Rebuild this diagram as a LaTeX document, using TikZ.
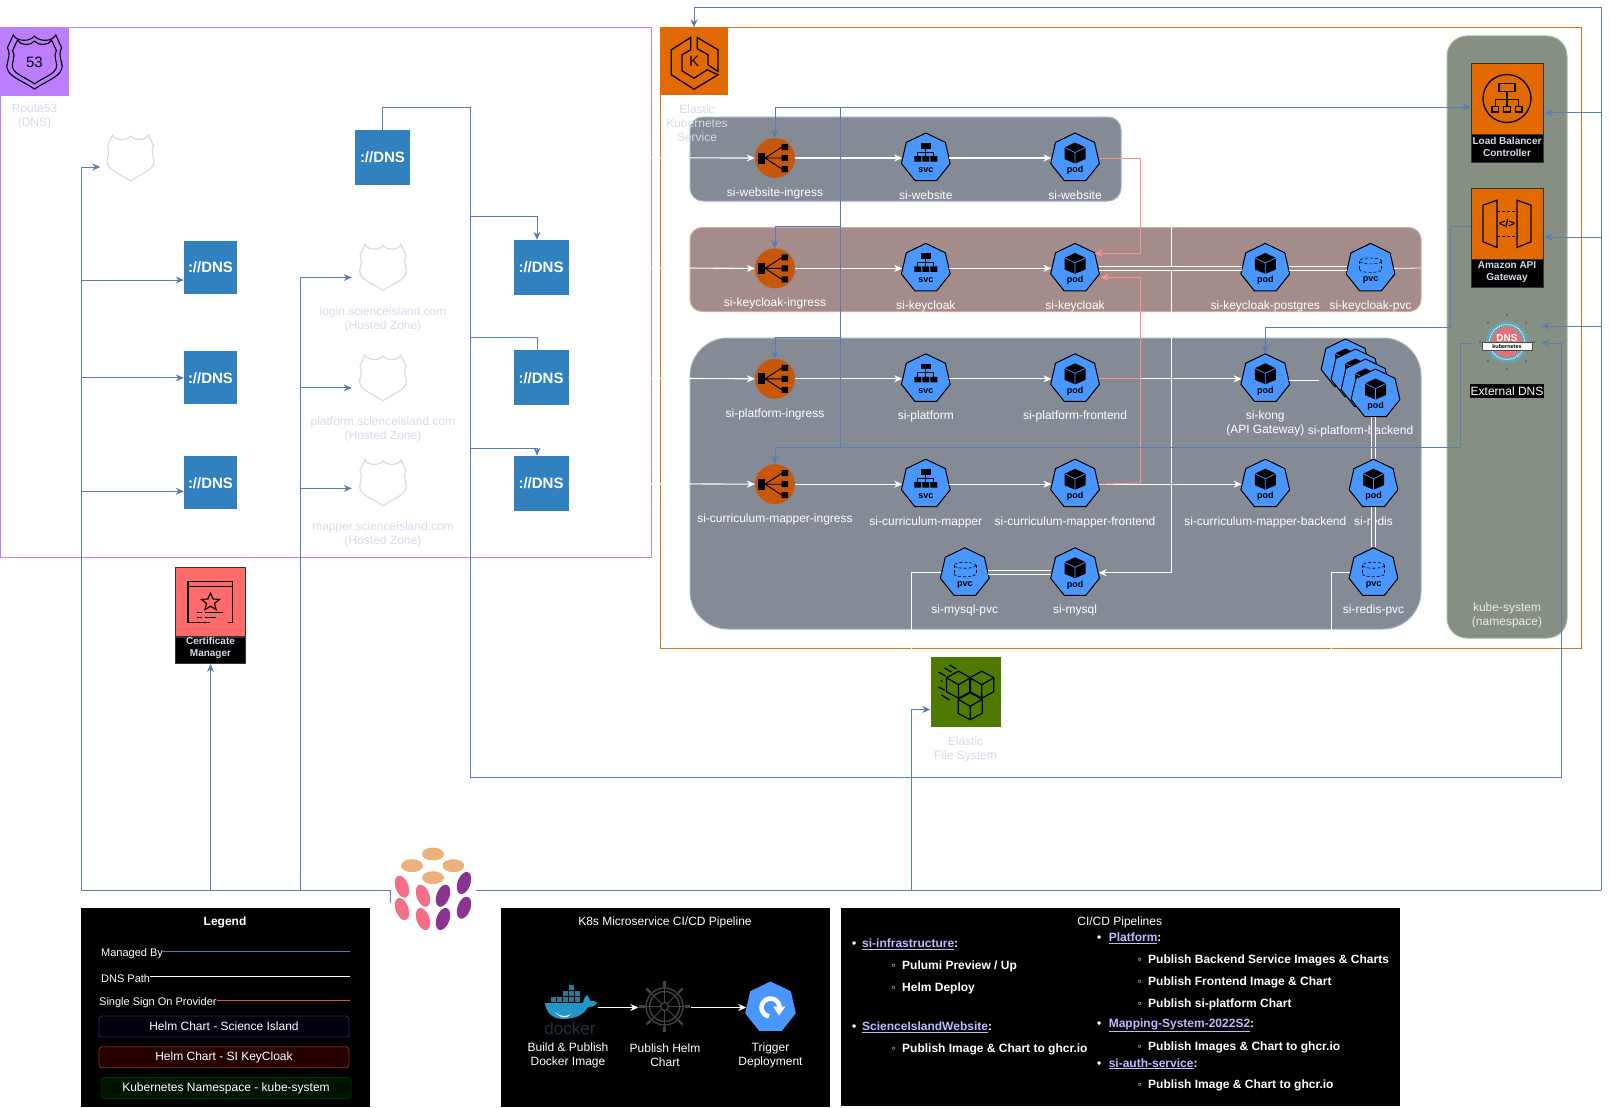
\documentclass[tikz,border=0pt]{standalone}
\usepackage{fontspec}
\setmainfont{Liberation Sans}
\usepackage{tikz}
\usetikzlibrary{shapes.geometric, arrows.meta, positioning, calc}

\definecolor{routepurple}{HTML}{BC7DFF}
\definecolor{eksorange}{HTML}{E36A00}
\definecolor{frameorange}{HTML}{D9731A}
\definecolor{efsgreen}{HTML}{4D7A00}
\definecolor{certred}{HTML}{FF6B6B}
\definecolor{kubeblue}{HTML}{4A96FF}
\definecolor{ingressorange}{HTML}{C7580B}
\definecolor{dnsblue}{HTML}{3181BE}
\definecolor{managedblue}{HTML}{5A7BB3}
\definecolor{ssopink}{HTML}{FF9090}
\definecolor{palelabel}{HTML}{D3DAE8}
\definecolor{chartgray}{HTML}{858B94}
\definecolor{chartedge}{HTML}{9FB0CC}
\definecolor{cloakgray}{HTML}{A38C8A}
\definecolor{cloakedge}{HTML}{D4A8A8}
\definecolor{systemgray}{HTML}{858F82}
\definecolor{systemedge}{HTML}{A3B899}
\definecolor{cilink}{HTML}{BBBBFF}
\definecolor{helmgray}{HTML}{454545}
\definecolor{pulumitan}{HTML}{EDB27C}
\definecolor{pulumipink}{HTML}{F46F85}
\definecolor{pulumipurple}{HTML}{8A3391}
\definecolor{dockerblue}{HTML}{2097C6}
\definecolor{dockerbox}{HTML}{2A7A96}
\definecolor{dockerword}{HTML}{22313C}
\definecolor{dnsteal}{HTML}{62A5B5}
\definecolor{dnspink}{HTML}{E2707A}

\newcommand{\shieldoutline}{(-18,-23) .. controls (-15,-17) and (-4,-17) .. (0,-22) .. controls (4,-17) and (15,-17) .. (18,-23) -- (23,-12) .. controls (19,-6) and (25,2) .. (23,6) .. controls (21,13) and (8,17) .. (0,23) .. controls (-8,17) and (-21,13) .. (-23,6) .. controls (-25,2) and (-19,-6) .. (-23,-12) -- cycle}

\begin{document}
\begin{tikzpicture}[
    x=1pt, y=-1pt,
    >={Stealth[length=8pt,width=7pt]},
    frame/.style={rectangle, line width=1pt, inner sep=0pt},
    chartgroup/.style={rectangle, draw=chartedge, fill=chartgray, line width=1pt, inner sep=0pt},
    kube/.style={regular polygon, regular polygon sides=7, minimum size=50pt, inner sep=0pt, draw=black, line width=1pt, line join=round, fill=kubeblue},
    kubetag/.style={text=black, inner sep=0pt, anchor=center, font=\fontsize{9}{10}\selectfont\bfseries},
    pod/.style={kube, path picture={
        \begin{scope}[shift={(path picture bounding box.center)}, yshift=-1.25pt]
        \fill[black] (0,-15.5) -- (10.5,-10.5) -- (10.5,1) -- (0,5.5) -- (-10.5,1) -- (-10.5,-10.5) -- cycle;
        \draw[kubeblue, line width=.7pt] (-10.5,-10.5) -- (0,-5.5) -- (10.5,-10.5) (0,-5.5) -- (0,5.5);
        \node[kubetag] (pod_tag) at (0,12) {pod};
        \end{scope}}},
    svc/.style={kube, path picture={
        \begin{scope}[shift={(path picture bounding box.center)}, yshift=-1.25pt]
        \fill[black] (-5,-15) rectangle (5,-9.5);
        \draw[black, line width=.7pt] (0,-9.5) -- (0,-6) (-8,-2) -- (-8,-6) -- (8,-6) -- (8,-2) (0,-6) -- (0,-2);
        \fill[black] (-11.5,-2) rectangle (-4.5,3.5) (-3.5,-2) rectangle (3.5,3.5) (4.5,-2) rectangle (11.5,3.5);
        \node[kubetag] (svc_tag) at (0,12) {svc};
        \end{scope}}},
    pvc/.style={kube, path picture={
        \begin{scope}[shift={(path picture bounding box.center)}, yshift=-1.25pt]
        \draw[black, line width=.6pt, densely dashed] (0,-7.5) ellipse [x radius=11, y radius=3];
        \draw[black, line width=.6pt, densely dashed] (-11,-7.5) -- (-11,1) (11,-7.5) -- (11,1);
        \draw[black, line width=.6pt, densely dashed] (-11,1) .. controls (-11,5) and (11,5) .. (11,1);
        \node[kubetag] (pvc_tag) at (0,12) {pvc};
        \end{scope}}},
    ingress/.style={circle, minimum size=40pt, inner sep=0pt, fill=ingressorange, path picture={
        \begin{scope}[shift={(path picture bounding box.center)}]
        \fill[black] (-17,-5.5) rectangle (-10,5.5);
        \fill[black] (6.5,-14) rectangle (13,-8) (6.5,-3) rectangle (13,3) (6.5,8) rectangle (13,14);
        \draw[black, line width=.9pt] (-10,0) -- (7,-11) (-10,0) -- (7,0) (-10,0) -- (7,11);
        \end{scope}}},
    kubelabel/.style={text=white, inner sep=0pt, align=center, font=\fontsize{12}{14}\selectfont},
    zonelabel/.style={text=palelabel, inner sep=0pt, align=center, font=\fontsize{12}{14}\selectfont},
    dnsbox/.style={rectangle, fill=dnsblue, text=white, inner sep=0pt, minimum size=#1, font=\fontsize{15}{17}\selectfont\bfseries},
    dnsbox/.default=55pt,
    hostedzone/.style={rectangle, minimum size=52pt, inner sep=0pt, path picture={
        \draw[palelabel, line width=1.2pt, shift={(path picture bounding box.center)}] \shieldoutline;}},
    awsicon/.style={rectangle, draw=black!80, line width=.8pt, minimum width=72pt, minimum height=71pt, inner sep=0pt, fill=eksorange},
    awslabel/.style={rectangle, draw=black!80, fill=black, line width=.8pt, minimum width=72pt, minimum height=28pt, inner sep=0pt},
    awstext/.style={text=palelabel, inner sep=0pt, align=center, font=\fontsize{10}{12}\selectfont\bfseries},
    managed/.style={draw=managedblue, line width=1pt},
    dnspath/.style={draw=white, line width=1.1pt},
    bond/.style={draw=white, line width=.8pt, double distance=3pt, double=chartgray},
    sso/.style={draw=ssopink, line width=1pt},
    panel/.style={rectangle, fill=black, inner sep=0pt},
    legendtext/.style={text=white, inner sep=0pt, anchor=west, yshift=-1.2pt, font=\fontsize{11}{13}\selectfont},
    chartkey/.style={rectangle, rounded corners=3pt, line width=.8pt, text=white, minimum width=250pt, minimum height=21pt, inner sep=0pt, font=\fontsize{12}{14}\selectfont},
    panelhead/.style={text=white, inner sep=0pt, align=center, font=\fontsize{12}{14}\selectfont},
    cihead/.style={text=white, inner sep=0pt, anchor=west, yshift=-1.5pt, font=\fontsize{12}{14}\selectfont\bfseries},
]
\useasboundingbox (0,0) rectangle (1610,1108);

% Frames and Chart Groups
\node[frame, draw=routepurple, minimum width=651pt, minimum height=529.5pt] (route_frame) at (325.5,292.75) {};
\node[frame, draw=frameorange, minimum width=921pt, minimum height=620pt] (eks_frame) at (1120.5,338) {};
\node[chartgroup, rounded corners=13pt, minimum width=431pt, minimum height=84pt] (website_group) at (905.5,159) {};
\node[chartgroup, draw=cloakedge, fill=cloakgray, rounded corners=12pt, minimum width=731pt, minimum height=84pt] (keycloak_group) at (1055.5,269.5) {};
\node[chartgroup, rounded corners=38pt, minimum width=731pt, minimum height=291pt] (platform_group) at (1055.5,483.5) {};
\node[chartgroup, draw=systemedge, fill=systemgray, rounded corners=20pt, minimum width=120pt, minimum height=602pt] (system_group) at (1507,337) {};

% Route53 Column: Icon, Hosted Zones and Records
\node[rectangle, fill=routepurple, minimum size=68.5pt, inner sep=0pt] (route_icon) at (34.5,62) {};
\begin{scope}[shift={(route_icon.center)}]
\draw[black, line width=1.1pt, scale=1.18] \shieldoutline;
\draw[black, line width=1.1pt, scale=.95] \shieldoutline;
\end{scope}
\node[text=black, inner sep=0pt, font=\fontsize{15}{17}\selectfont] (route_num) at (route_icon.center) {53};
\node[zonelabel, below=7pt of route_icon] (route_label) {Route53\\(DNS)};
\node[hostedzone] (root_shield) at (130.5,158) {};
\node[dnsbox=55pt] (dns_root) at (382.5,157.5) {://DNS};

\node[dnsbox=53pt] (dns_left_login) at (210.5,267.5) {://DNS};
\node[dnsbox=53pt, below=57pt of dns_left_login] (dns_left_platform) {://DNS};
\node[dnsbox=53pt, below=51.5pt of dns_left_platform] (dns_left_mapper) {://DNS};

\node[hostedzone] (login_shield) at (383,267.5) {};
\node[hostedzone, below=58pt of login_shield] (platform_shield) {};
\node[hostedzone, below=52.5pt of platform_shield] (mapper_shield) {};
\node[zonelabel, below=13pt of login_shield] (login_label) {login.scienceisland.com\\(Hosted Zone)};
\node[zonelabel, below=13pt of platform_shield] (platform_label) {platform.scienceisland.com\\(Hosted Zone)};
\node[zonelabel, below=13pt of mapper_shield] (mapper_label) {mapper.scienceisland.com\\(Hosted Zone)};

\node[dnsbox] (dns_login) at (541,267.5) {://DNS};
\node[dnsbox, below=55pt of dns_login] (dns_platform) {://DNS};
\node[dnsbox, below=50pt of dns_platform] (dns_mapper) {://DNS};

% Certificate Manager
\node[awsicon, fill=certred, minimum width=70pt, minimum height=68.5pt] (cert) at (210.5,602) {};
\node[awslabel, minimum width=70pt, minimum height=26.5pt, below=0pt of cert] (cert_label) {};
\node[awstext] (cert_text) at ([yshift=2.5pt]cert_label.center) {Certificate\\Manager};
\begin{scope}[shift={(cert.center)}]
\draw[black, line width=1.1pt] (-1,20.5) -- (-22.5,20.5) -- (-22.5,-20.5) -- (22,-20.5) -- (22,20.5) -- (17,20.5) (-22.5,-15.5) -- (22,-15.5);
\draw[black, line width=1.1pt] (0,-9) -- (2.6,-3) -- (9,-2.6) -- (4,1.4) -- (5.6,7.6) -- (0,4.2) -- (-5.6,7.6) -- (-4,1.4) -- (-9,-2.6) -- (-2.6,-3) -- cycle;
\draw[black, line width=1pt] (-14,10) -- (-9,10) (-6,10) -- (12,10) (-14,15) -- (-9,15) (-6,15) -- (5,15);
\end{scope}

% EKS and EFS Icons
\node[rectangle, fill=eksorange, minimum size=68pt, inner sep=0pt] (eks_icon) at (694,61.5) {};
\begin{scope}[shift={(eks_icon.center)}]
\draw[black, line width=1.3pt, line join=miter] (-3.3,-24) -- (-22.7,-11.7) -- (-22.7,13.3) -- (0,27.7) -- (24,13.3) -- (13.3,8.3) -- (0,16.7) -- (-12,9.3) -- (-12,-6.7) -- (-3.3,-11.7) -- cycle;
\draw[black, line width=1.3pt] (3.3,-24) -- (24,-11.7) -- (24,10) -- (14,3.3) -- (14,-6.7) -- (3.3,-12.7) -- cycle;
\end{scope}
\node[text=black, inner sep=0pt, font=\fontsize{15}{17}\selectfont] (eks_k) at (eks_icon.center) {K};
\node[zonelabel, below=8.5pt of eks_icon, xshift=3pt] (eks_label) {Elastic\\Kubernetes\\Service};

\node[rectangle, fill=efsgreen, minimum size=70pt, inner sep=0pt] (efs) at (965.5,692) {};
\begin{scope}[shift={(efs.center)}]
\foreach \cx/\cy in {-7/-7.3, 16.3/-7.3, 4.7/14.3} {
    \draw[black, line width=1.2pt, line join=round] (\cx,\cy-13.5) -- (\cx+12,\cy-7) -- (\cx+12,\cy+7) -- (\cx,\cy+13.5) -- (\cx-12,\cy+7) -- (\cx-12,\cy-7) -- cycle;
    \draw[black, line width=1.2pt] (\cx-12,\cy-7) -- (\cx,\cy) -- (\cx+12,\cy-7) (\cx,\cy) -- (\cx,\cy+13.5);
}
\draw[black, line width=1.2pt] (-27,-20) -- (-20,-16) (-21,-24) -- (-14,-20) (-16,-27) -- (-9,-23) (-27,-5) -- (-21,-2) (-24,3) -- (-16,8);
\fill[black] (-24,-11) circle (1);
\end{scope}
\node[zonelabel, below=9pt of efs] (efs_label) {Elastic\\File System};

% Website Row
\node[ingress] (website_ingress) at (775,158) {};
\node[svc, right=107pt of website_ingress] (website_svc) {};
\node[pod, right=102pt of website_svc] (website_pod) {};

% Keycloak Row
\node[ingress, below=70pt of website_ingress] (keycloak_ingress) {};
\node[svc, right=107pt of keycloak_ingress] (keycloak_svc) {};
\node[pod, right=102pt of keycloak_svc] (keycloak_pod) {};
\node[pod, right=143pt of keycloak_pod] (keycloak_postgres) {};
\node[pvc, right=58pt of keycloak_postgres] (keycloak_pvc) {};

% Platform Row
\node[ingress, below=70pt of keycloak_ingress] (platform_ingress) {};
\node[svc, right=107pt of platform_ingress] (platform_svc) {};
\node[pod, right=102pt of platform_svc] (platform_frontend) {};
\node[pod, right=143pt of platform_frontend] (kong_pod) {};
\coordinate (backend_spot) at (1375.5,394);
\foreach \i in {3,2,1} {
    \node[pod] (backend_copy_\i) at ($(backend_spot)+(-10*\i,-10*\i)$) {};
}
\node[pod] (platform_backend) at (backend_spot) {};

% Curriculum Mapper Row
\node[ingress, below=65pt of platform_ingress] (curriculum_ingress) {};
\node[svc, right=107pt of curriculum_ingress] (curriculum_svc) {};
\node[pod, right=102pt of curriculum_svc] (curriculum_frontend) {};
\node[pod, right=143pt of curriculum_frontend] (curriculum_backend) {};
\node[pod, right=61pt of curriculum_backend] (redis_pod) {};

% Storage Row
\node[pod, below=40pt of curriculum_frontend] (mysql_pod) {};
\node[pvc, left=63pt of mysql_pod] (mysql_pvc) {};
\node[pvc, below=40pt of redis_pod] (redis_pvc) {};

% Row Labels
\node[kubelabel, below=9.5pt of website_ingress] (website_ingress_text) {si-website-ingress};
\node[kubelabel, below=9.5pt of website_svc] (website_svc_text) {si-website};
\node[kubelabel, below=9.5pt of website_pod] (website_pod_text) {si-website};
\node[kubelabel, below=9.5pt of keycloak_ingress] (keycloak_ingress_text) {si-keycloak-ingress};
\node[kubelabel, below=9pt of keycloak_svc] (keycloak_svc_text) {si-keycloak};
\node[kubelabel, below=9pt of keycloak_pod] (keycloak_pod_text) {si-keycloak};
\node[kubelabel, below=9pt of keycloak_postgres] (keycloak_postgres_text) {si-keycloak-postgres};
\node[kubelabel, below=9pt of keycloak_pvc] (keycloak_pvc_text) {si-keycloak-pvc};
\node[kubelabel, below=9.5pt of platform_ingress] (platform_ingress_text) {si-platform-ingress};
\node[kubelabel, below=9pt of platform_svc] (platform_svc_text) {si-platform};
\node[kubelabel, below=9pt of platform_frontend] (platform_frontend_text) {si-platform-frontend};
\node[kubelabel, below=9pt of kong_pod] (kong_text) {si-kong\\(API Gateway)};
\node[kubelabel, below=9pt of platform_backend, xshift=-15pt] (platform_backend_text) {si-platform-backend};
\node[kubelabel, below=9.5pt of curriculum_ingress] (curriculum_ingress_text) {si-curriculum-mapper-ingress};
\node[kubelabel, below=9pt of curriculum_svc] (curriculum_svc_text) {si-curriculum-mapper};
\node[kubelabel, below=9pt of curriculum_frontend] (curriculum_frontend_text) {si-curriculum-mapper-frontend};
\node[kubelabel, below=9pt of curriculum_backend] (curriculum_backend_text) {si-curriculum-mapper-backend};
\node[kubelabel, below=9pt of redis_pod] (redis_pod_text) {si-redis};
\node[kubelabel, below=9pt of mysql_pvc] (mysql_pvc_text) {si-mysql-pvc};
\node[kubelabel, below=9pt of mysql_pod] (mysql_pod_text) {si-mysql};
\node[kubelabel, below=9pt of redis_pvc] (redis_pvc_text) {si-redis-pvc};

% Kube System Column
\node[awsicon] (lb) at (1507,98.5) {};
\node[awslabel, below=0pt of lb] (lb_label) {};
\node[awstext] (lb_text) at ([yshift=2pt]lb_label.center) {Load Balancer\\Controller};
\draw[black, line width=1.3pt] (lb.center) circle (24);
\begin{scope}[shift={(lb.center)}]
\draw[black, line width=1.2pt] (-8,-15) rectangle (8,-7) (0,-7) -- (0,8) (-11.7,8) -- (-11.7,1) -- (11.7,1) -- (11.7,8);
\draw[black, line width=1.2pt] (-15,8) rectangle (-8.5,13.5) (-3.2,8) rectangle (3.2,13.5) (8.5,8) rectangle (15,13.5);
\end{scope}

\node[awsicon] (api) at (1507,223.5) {};
\node[awslabel, below=0pt of api] (api_label) {};
\node[awstext] (api_text) at ([yshift=2pt]api_label.center) {Amazon API\\Gateway};
\begin{scope}[shift={(api.center)}]
\draw[black, line width=1.2pt] (-24,-18.3) -- (-10,-23.3) -- (-10,24) -- (-24,18.3) -- cycle (24,-18.3) -- (10,-23.3) -- (10,24) -- (24,18.3) -- cycle;
\draw[black, line width=1.2pt, densely dashed] (-10,-11.7) -- (10,-11.7) (-10,12.7) -- (10,12.7);
\end{scope}
\node[text=black, inner sep=0pt, font=\fontsize{11}{13}\selectfont\bfseries] (api_tag) at (api.center) {</>};

\node[rectangle, minimum width=69pt, minimum height=50pt, inner sep=0pt] (ext_dns) at (1507,343) {};
\begin{scope}[shift={(ext_dns.center)}, yshift=1pt]
\foreach \a in {0,45,...,315} {
    \draw[black!45, line width=.8pt] (\a:20) -- (\a:27);
    \fill[dnsteal!70!black] (\a:27) circle (1.4);
}
\fill[dnsteal] (0,0) circle (21);
\draw[white, line width=1pt, densely dotted] (0,0) circle (17.5);
\fill[dnspink] (0,0) circle (15);
\end{scope}
\node[text=white, inner sep=0pt, font=\fontsize{10}{11}\selectfont\bfseries] (ext_dns_name) at ([yshift=5pt]ext_dns.center) {DNS};
\node[rectangle, fill=white, draw=black!70, line width=.6pt, minimum width=50pt, minimum height=7.5pt, inner sep=0pt, text=black, font=\fontsize{5.5}{6}\selectfont\bfseries, below=.5pt of ext_dns_name] (ext_dns_band) {kubernetes};
\node[rectangle, fill=black, text=white, minimum width=74pt, minimum height=14pt, inner sep=0pt, font=\fontsize{12}{14}\selectfont, below=16pt of ext_dns] (ext_dns_label) {External DNS};
\node[kubelabel, text=black!8] (system_label) at (1507,615.5) {kube-system\\(namespace)};

% Pulumi Logo
\node[rectangle, minimum width=85pt, minimum height=10pt, inner sep=0pt] (pulumi) at (433,890) {};
\foreach \ex/\ey in {433/854, 412/865.7, 453.4/865.7, 433/877.7} {
    \fill[pulumitan] (\ex,\ey) ellipse [x radius=11, y radius=6.5];
}
\foreach \ex/\ey in {402/886.7, 423/895.7, 402/909, 423/919} {
    \fill[pulumipink] (\ex,\ey) ellipse [x radius=6.5, y radius=11.5, rotate=20];
}
\foreach \ex/\ey in {464/883, 443/895.7, 464/907.7, 443/919} {
    \fill[pulumipurple] (\ex,\ey) ellipse [x radius=6.5, y radius=11.5, rotate=-20];
}

% Connectors: DNS Path
\coordinate (mysql_link) at (1171,227);
\coordinate (keycloak_out) at (1421,268);
\coordinate (mysql_out) at (911,662);
\coordinate (redis_out) at (1331,662);
\draw[dnspath, ->] (dns_root.east) -- (website_ingress.west);
\draw[dnspath, ->] (dns_login.east) -- (keycloak_ingress.west);
\draw[dnspath, ->] (dns_platform.east) -- (platform_ingress.west);
\draw[dnspath, ->] (dns_mapper.east) -- (curriculum_ingress.west);
\draw[dnspath, ->] (website_ingress.east) -- (website_svc.west);
\draw[dnspath, ->] (website_svc.east) -- (website_pod.west);
\draw[dnspath, ->] (keycloak_ingress.east) -- (keycloak_svc.west);
\draw[dnspath, ->] (keycloak_svc.east) -- (keycloak_pod.west);
\draw[dnspath, ->] (platform_ingress.east) -- (platform_svc.west);
\draw[dnspath, ->] (platform_svc.east) -- (platform_frontend.west);
\draw[dnspath, ->] (platform_frontend.east) -- (kong_pod.west);
\draw[dnspath, ->] (curriculum_ingress.east) -- (curriculum_svc.west);
\draw[dnspath, ->] (curriculum_svc.east) -- (curriculum_frontend.west);
\draw[dnspath, ->] (curriculum_frontend.east) -- (curriculum_backend.west);
\draw[dnspath, line width=.9pt, ->] (mysql_link) |- (mysql_pod.east);
\draw[bond, double=cloakgray] (keycloak_pod.east) -- (keycloak_postgres.west);
\draw[bond, double=cloakgray] (keycloak_postgres.east) -- (keycloak_pvc.west);
\draw[dnspath, line width=.8pt] (keycloak_pvc.east) -- (keycloak_out);
\draw[bond] (kong_pod.east) -- ++(30,0);
\draw[bond] (redis_pod.north |- platform_backend.south) -- (redis_pod.north);
\draw[bond] (redis_pod.south) -- (redis_pvc.north);
\draw[bond] (mysql_pvc.east) -- (mysql_pod.west);
\draw[dnspath, line width=.8pt] (mysql_pvc.west) -| (mysql_out);
\draw[dnspath, line width=.8pt] (redis_pvc.west) -| (redis_out);

% Connectors: Single Sign On
\coordinate (sso_top) at (1140.6,158);
\coordinate (sso_low) at (1140.6,483);
\draw[sso] (platform_frontend.east) -- (platform_frontend.east -| sso_top);
\draw[sso, ->] (website_pod.east) -- (sso_top) |- ([xshift=-4pt,yshift=15pt]keycloak_pod.east);
\draw[sso, ->] (curriculum_frontend.east) -- (sso_low) |- ([xshift=2pt,yshift=-9pt]keycloak_pod.east);

% Connectors: Managed By
\coordinate (trunk_left) at (81,890);
\coordinate (trunk_mid) at (300.5,890);
\coordinate (trunk_efs) at (911,890);
\coordinate (trunk_right) at (1601,890);
\coordinate (eks_top) at (694,8);
\coordinate (route_bus) at (470,107);
\coordinate (route_corner) at (470,777);
\coordinate (ext_corner) at (1561,777);
\coordinate (lb_out) at ([yshift=-8.5pt]lb.west);
\coordinate (lb_bus) at (840.6,107);
\coordinate (lb_bus_end) at (840.6,447);
\coordinate (bus_keycloak) at (840.6,226.7);
\coordinate (bus_platform) at (840.6,337);
\coordinate (api_drop) at (1450,327.5);
\coordinate (dns_drop) at (1460,447);

\draw[managed] (pulumi.west) -- (trunk_left);
\draw[managed] (pulumi.west) -- ++(0,13);
\draw[managed, ->] (trunk_left) |- ([xshift=-4pt,yshift=-9pt]root_shield.west);
\draw[managed, ->] (trunk_left |- dns_left_login.west) ++(0,12.5) -- ([yshift=-12.5pt]dns_left_login.west);
\draw[managed, ->] (trunk_left |- dns_left_platform.west) -- (dns_left_platform.west);
\draw[managed, ->] (trunk_left |- dns_left_mapper.west) ++(0,8.5) -- ([yshift=-8.5pt]dns_left_mapper.west);
\draw[managed, ->] (cert_label.south |- pulumi.west) -- (cert_label.south);
\draw[managed, ->] (trunk_mid) |- ([xshift=-5pt,yshift=-10pt]login_shield.west);
\draw[managed, ->] (trunk_mid |- platform_shield.west) ++(0,10) -- ([xshift=-5pt,yshift=-10pt]platform_shield.west);
\draw[managed, ->] (trunk_mid |- mapper_shield.west) ++(0,5.6) -- ([xshift=-5pt,yshift=-5.6pt]mapper_shield.west);
\draw[managed] (pulumi.east) -- (trunk_right);
\draw[managed, ->] (trunk_efs) |- ([yshift=-17.5pt]efs.west);
\draw[managed, ->] (trunk_right) |- (eks_top) -- (eks_icon.north);
\draw[managed, ->] (trunk_right |- lb.east) ++(0,14.2) -- ([xshift=1pt,yshift=-14.2pt]lb.east);
\draw[managed, ->] (trunk_right |- api.east) ++(0,13.5) -- ([xshift=1pt,yshift=-13.5pt]api.east);
\draw[managed, ->] (trunk_right |- ext_dns.east) ++(0,-17) -- ([yshift=17pt]ext_dns.east);

\draw[managed, ->] (dns_root.north) |- (route_bus) -- (route_corner) -- (ext_corner) |- (ext_dns.east);
\draw[managed, ->] (route_bus |- dns_login.north) ++(0,-23) -| ([xshift=-4pt]dns_login.north);
\draw[managed] (route_bus |- dns_platform.north) ++(0,-12.5) -| ([xshift=-4pt]dns_platform.north);
\draw[managed, ->] (route_bus |- dns_mapper.north) ++(0,-7.5) -| ([xshift=-4pt]dns_mapper.north);

\draw[managed, <->] (lb_out) -- (lb_out -| website_ingress.north) -- (website_ingress.north);
\draw[managed] (lb_bus) -- (lb_bus_end);
\draw[managed, ->] (bus_keycloak) -| (keycloak_ingress.north);
\draw[managed, ->] (bus_platform) -| (platform_ingress.north);
\draw[managed, ->] ([yshift=-3pt]api.west) -| (api_drop) -| (kong_pod.north);
\draw[managed, ->] (ext_dns.west) -| (dns_drop) -| (curriculum_ingress.north);

% Legend Panel
\node[panel, minimum width=289pt, minimum height=199pt] (legend_panel) at (225.5,1007.5) {};
\node[panelhead, font=\fontsize{12}{14}\selectfont\bfseries] (legend_title) at (225,922) {Legend};
\node[legendtext] (legend_managed) at (101,952) {Managed By};
\node[legendtext] (legend_dns) at (101,977) {DNS Path};
\node[legendtext] (legend_sso) at (99,1001) {Single Sign On Provider};
\coordinate (legend_managed_end) at (350,951);
\coordinate (legend_dns_end) at (350,976);
\coordinate (legend_sso_end) at (350,1000);
\draw[managed] (legend_managed.east |- legend_managed_end) -- (legend_managed_end);
\draw[draw=white, line width=1pt] (legend_dns.east |- legend_dns_end) -- (legend_dns_end);
\draw[draw=red!45!brown!90!white, line width=1pt] (legend_sso.east |- legend_sso_end) -- (legend_sso_end);
\node[chartkey, draw=blue!30!gray!50!black, fill=blue!70!black!8!black] (key_science) at (224,1026.5) {Helm Chart - Science Island};
\node[chartkey, draw=red!45!gray!70!black, fill=red!60!black!25!black, below=9pt of key_science] (key_keycloak) {Helm Chart - SI KeyCloak};
\node[chartkey, draw=green!35!black!60!black, fill=green!50!black!15!black, below=9pt of key_keycloak, xshift=2pt] (key_system) {Kubernetes Namespace - kube-system};

% Pipeline Panel
\node[panel, minimum width=329pt, minimum height=199pt] (pipeline_panel) at (665.5,1007.5) {};
\node[panelhead] (pipeline_title) at (665,922) {K8s Microservice CI/CD Pipeline};
\node[rectangle, minimum width=52pt, minimum height=44pt, inner sep=0pt] (docker_icon) at (570,1007.5) {};
\begin{scope}[shift={(docker_icon.center)}, yshift=1.5pt]
\fill[dockerblue] (-25,-3) -- (13,-3) .. controls (14,-8) and (15,-10) .. (17,-11) .. controls (19,-9) and (20,-7) .. (20,-5) .. controls (23,-6) and (25,-5) .. (27,-3) .. controls (24,1) and (21,1) .. (18,1) .. controls (13,10) and (3,13) .. (-7,13) .. controls (-18,13) and (-24,6) .. (-25,-3) -- cycle;
\fill[white] (-15,6) .. controls (-10,11) and (-4,11) .. (1,8) .. controls (-3,13) and (-9,13) .. (-15,6) -- cycle;
\foreach \bx/\by in {-19/-9, -13/-9, -7/-9, -1/-9, 5/-9, -7/-15, -1/-15, 5/-15, -1/-21} {
    \fill[dockerbox] (\bx,\by) rectangle ++(5,5);
}
\end{scope}
\node[text=dockerword, inner sep=0pt, font=\fontsize{17}{19}\selectfont] (docker_word) at (570,1028) {docker};
\node[circle, minimum size=52pt, inner sep=0pt] (helm_icon) at (664.5,1007.5) {};
\begin{scope}[shift={(helm_icon.center)}, yshift=1pt]
\foreach \a in {0,45,...,315} {
    \draw[helmgray, line width=1pt] (\a:4) -- (\a:20);
    \draw[helmgray, line width=2.2pt] (\a:20) -- (\a:25.5);
}
\draw[helmgray, line width=1.3pt] (0,0) circle (4);
\draw[helmgray, line width=1.3pt] (0,0) circle (15);
\draw[helmgray, line width=1.3pt] (0,0) circle (18.5);
\end{scope}
\node[regular polygon, regular polygon sides=7, minimum size=52pt, inner sep=0pt, fill=kubeblue] (trigger_icon) at (770.5,1007.5) {};
\begin{scope}[shift={(trigger_icon.center)}]
\draw[white, line width=4.5pt] (100:9) arc (100:360:9);
\fill[white] (2.5,-1) -- (15,-1) -- (8.5,8) -- cycle;
\end{scope}
\draw[dnspath, line width=.9pt, ->] ([xshift=2pt]docker_icon.east) -- (helm_icon.west);
\draw[dnspath, line width=.9pt, ->] (helm_icon.east) -- (trigger_icon.west);
\node[panelhead] (docker_text) at (568,1055) {Build \& Publish\\Docker Image};
\node[panelhead] (helm_text) at (665,1055) {Publish Helm\\Chart};
\node[panelhead] (trigger_text) at (770.5,1055) {Trigger\\Deployment};

% Pipelines Panel
\node[panel, minimum width=559pt, minimum height=197.7pt] (ci_panel) at (1120,1006.85) {};
\node[panelhead] (ci_title) at (1119.7,922) {CI/CD Pipelines};
\node[cihead] (ci_infra) at (852,942.7) {\makebox[10pt][l]{\textbullet}\textcolor{cilink}{\underline{si-infrastructure}}:};
\node[cihead] (ci_pulumi) at (891.5,965) {\makebox[10.5pt][l]{◦}Pulumi Preview / Up};
\node[cihead] (ci_helm) at (891.5,987) {\makebox[10.5pt][l]{◦}Helm Deploy};
\node[cihead] (ci_website) at (852,1025.7) {\makebox[10pt][l]{\textbullet}\textcolor{cilink}{\underline{ScienceIslandWebsite}}:};
\node[cihead] (ci_website_item) at (891.5,1047.7) {\makebox[10.5pt][l]{◦}Publish Image \& Chart to ghcr.io};
\node[cihead] (ci_platform) at (1097,936.7) {\makebox[11.6pt][l]{\textbullet}\textcolor{cilink}{\underline{Platform}}:};
\node[cihead] (ci_backend) at (1137.5,959) {\makebox[10.5pt][l]{◦}Publish Backend Service Images \& Charts};
\node[cihead] (ci_frontend) at (1137.5,981) {\makebox[10.5pt][l]{◦}Publish Frontend Image \& Chart};
\node[cihead] (ci_chart) at (1137.5,1002.7) {\makebox[10.5pt][l]{◦}Publish si-platform Chart};
\node[cihead] (ci_mapping) at (1097,1024) {\makebox[11.6pt][l]{\textbullet}\textcolor{cilink}{\underline{Mapping-System-2022S2}}:};
\node[cihead] (ci_mapping_item) at (1137.5,1046) {\makebox[10.5pt][l]{◦}Publish Images \& Chart to ghcr.io};
\node[cihead] (ci_auth) at (1097,1062.3) {\makebox[11.6pt][l]{\textbullet}\textcolor{cilink}{\underline{si-auth-service}}:};
\node[cihead] (ci_auth_item) at (1137.5,1084) {\makebox[10.5pt][l]{◦}Publish Image \& Chart to ghcr.io};

\end{tikzpicture}
\end{document}
